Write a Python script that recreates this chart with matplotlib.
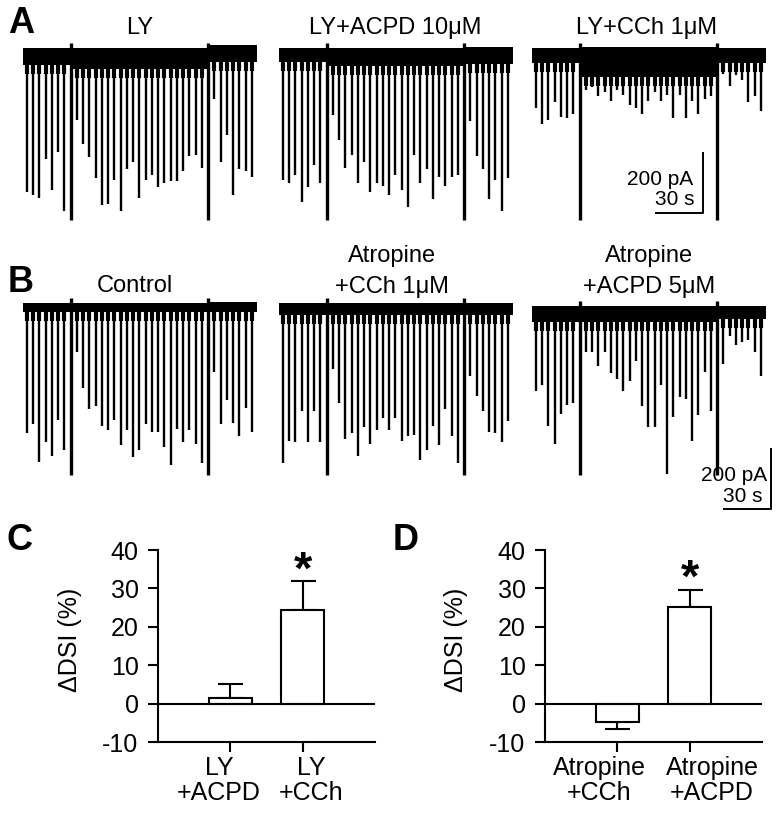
import matplotlib
matplotlib.use("Agg")
import matplotlib.pyplot as plt

plt.rcParams['font.family'] = ['Liberation Sans', 'DejaVu Sans']
plt.rcParams['axes.unicode_minus'] = False

# ---- traces: peak IPSC amplitude (pA) at each 4 s stimulus slot ----
# slots 7 and 29 are the depolarising (DSI) step artefacts
dsi_slots = [7, 29]
amp_ly = [440, 450, 460, 330, 435, 305, 505, 535, 200, 280, 325, 395, 485, 480, 400, 505,
          365, 340, 460, 400, 385, 425, 410, 405, 405, 370, 320, 315, 360, 535, 130, 340,
          250, 450, 365, 370, 390]
amp_ly_acpd = [400, 410, 385, 475, 425, 350, 410, 535, 185, 265, 360, 315, 410, 340, 440, 410,
               420, 450, 385, 435, 490, 315, 410, 365, 465, 390, 420, 390, 385, 535, 205, 320,
               365, 465, 400, 505, 395]
amp_ly_cch = [160, 215, 200, 140, 190, 195, 180, 535, 100, 90, 120, 105, 135, 100, 115, 150,
              160, 180, 135, 105, 135, 115, 195, 115, 195, 135, 180, 130, 120, 535, 45, 85,
              50, 65, 140, 120, 170]
amp_control = [410, 380, 505, 440, 485, 365, 465, 550, 140, 260, 330, 320, 385, 400, 365, 450,
               400, 490, 465, 380, 405, 405, 455, 515, 395, 440, 400, 445, 510, 550, 205, 380,
               300, 375, 420, 325, 405]
amp_atr_cch = [510, 435, 440, 335, 440, 335, 440, 550, 195, 310, 430, 410, 485, 390, 445, 400,
               360, 400, 360, 435, 420, 415, 500, 465, 385, 450, 330, 420, 510, 550, 220, 285,
               335, 405, 410, 440, 370]
amp_atr_acpd = [270, 250, 385, 445, 345, 315, 310, 550, 140, 140, 185, 140, 210, 230, 270, 235,
                170, 320, 390, 390, 250, 545, 355, 290, 295, 435, 350, 205, 335, 550, 180, 85,
                115, 105, 100, 140, 220]

# noise band (top, bottom) in pA for the three segments split by the DSI steps
band_ly = [(40, -17), (40, -30), (50, -7)]
band_ly_acpd = [(40, -7), (40, -20), (43, -13)]
band_ly_cch = [(40, -10), (45, -55), (40, -10)]
band_control = [(23, -7), (23, -7), (27, -7)]
band_atr_cch = [(23, -15), (23, -15), (23, -15)]
band_atr_acpd = [(13, -40), (13, -40), (13, -30)]

titles_a = ["LY", "LY+ACPD 10\u03bcM", "LY+CCh 1\u03bcM"]
titles_b = [["Control"], ["Atropine", "+CCh 1\u03bcM"], ["Atropine", "+ACPD 5\u03bcM"]]

# ---- bar panels: change in DSI (%) ----
labels_c = ["LY\n+ACPD", "LY\n+CCh"]
mean_c = [1.5, 24.5]
sem_c = [3.5, 7.3]
sig_c = [False, True]
labels_d = ["Atropine\n+CCh", "Atropine\n+ACPD"]
mean_d = [-4.8, 25.2]
sem_d = [1.8, 4.5]
sig_d = [False, True]

W, H = 780, 816
PA = 10 / 3.0        # pA per pixel
SEC = 1 / 1.5625     # s per pixel
fig = plt.figure(figsize=(W / 100, H / 100), dpi=100)


def px_axes(left, top, w, h):
    return fig.add_axes([left / W, 1 - (top + h) / H, w / W, h / H])


def trace(left, top, h, base, amps, band):
    ax = px_axes(left, top, 150 / SEC, h)
    ax.set_xlim(0, 150)
    ax.set_ylim(-(top + h - base) * PA, (base - top) * PA)
    ax.axis('off')
    edges = [0] + [2.5 + 4 * s for s in dsi_slots] + [150]
    for k, (bt, bb) in enumerate(band):
        ax.fill_between([edges[k], edges[k + 1]], [bb, bb], [bt, bt], color='black', lw=0)
    for i, a in enumerate(amps):
        t = 2.5 + 4 * i
        seg = sum(i > s for s in dsi_slots)
        if i in dsi_slots:
            ax.vlines(t, -a, band[0][0] + 18, color='black', lw=2.4)
        else:
            ax.vlines(t, -a, 0, color='black', lw=1.7)
            # thicker foot where the IPSC leaves the noisy baseline
            bb = band[seg][1]
            ax.vlines(t, max(-a, bb - 30), bb + 1, color='black', lw=3.0)
    return ax


lefts = [23, 279, 532]
for left, amps, band in zip(lefts, [amp_ly, amp_ly_acpd, amp_ly_cch],
                            [band_ly, band_ly_acpd, band_ly_cch]):
    ax_a = trace(left, 35, 195, 60, amps, band)
for left, amps, band in zip(lefts, [amp_control, amp_atr_cch, amp_atr_acpd],
                            [band_control, band_atr_cch, band_atr_acpd]):
    ax_b = trace(left, 290, 225, 310, amps, band)


def scale_bar(ax, tx, y0, t_txt1, y_txt1, t_txt2, y_txt2):
    ax.plot([tx - 30, tx, tx], [y0, y0, y0 + 200], color='black', lw=1.4, clip_on=False)
    ax.text(t_txt1, y_txt1, "200 pA", ha='right', va='baseline', fontsize=15)
    ax.text(t_txt2, y_txt2, "30 s", ha='right', va='baseline', fontsize=15)


scale_bar(ax_a, 109.4, -510, 103, -417, 104.3, -483)
scale_bar(ax_b, 153, -663, 150.4, -570, 147.8, -640)

centers = [140, 395, 647]
for cx, t in zip(centers, titles_a):
    fig.text(cx / W, 1 - 34 / H, t, ha='center', va='baseline', fontsize=17)
for cx, lines in zip([135, 392, 649], titles_b):
    base = 292 if len(lines) == 1 else 262
    for j, t in enumerate(lines):
        fig.text(cx / W, 1 - (base + 31 * j) / H, t, ha='center', va='baseline', fontsize=17)

for letter, x, y in [("A", 8, 33), ("B", 8, 292), ("C", 6, 550), ("D", 393, 550)]:
    fig.text(x / W, 1 - y / H, letter, ha='left', va='baseline', fontsize=26, fontweight='bold')


def bar_panel(left, labels, label_x, mean, sem, sig, ylabel_x):
    ax = px_axes(left, 550, 217, 192)
    x = [1, 2]
    ax.bar(x, mean, width=0.6, color='white', edgecolor='black', lw=1.5, zorder=3)
    for xi, m, s, star in zip(x, mean, sem, sig):
        err = [[0], [s]] if m >= 0 else [[s], [0]]
        ax.errorbar([xi], [m], yerr=err, fmt='none', ecolor='black', elinewidth=1.5,
                    capsize=9, capthick=1.5, zorder=2)
        if star:
            ax.annotate("*", (xi, m + s), xytext=(0, -9), textcoords='offset points',
                        ha='center', va='bottom', fontsize=34, fontweight='bold')
    ax.axhline(0, color='black', lw=1.5, zorder=4)
    ax.set_xlim(0, 3)
    ax.set_ylim(-10, 40)
    ax.set_yticks([-10, 0, 10, 20, 30, 40])
    ax.set_xticks(x)
    ax.set_xticklabels([])
    ax.tick_params(axis='y', labelsize=18, pad=7)
    ax.tick_params(direction='out', length=7, width=1.5)
    for lx, lab in zip(label_x, labels):
        ax.text((lx - left) / 217 * 3, -13.6, lab, ha='center', va='top', fontsize=18,
                linespacing=1.05)
    for side in ['top', 'right']:
        ax.spines[side].set_visible(False)
    for side in ['left', 'bottom']:
        ax.spines[side].set_linewidth(1.5)
    fig.text(ylabel_x / W, 1 - 640 / H, "\u0394DSI (%)", rotation=90, ha='center', va='center',
             fontsize=18)
    return ax


ax_c = bar_panel(158, labels_c, [219, 311], mean_c, sem_c, sig_c, 70)
ax_d = bar_panel(545, labels_d, [599, 712], mean_d, sem_d, sig_d, 456)

fig.savefig("out.png", dpi=100)
